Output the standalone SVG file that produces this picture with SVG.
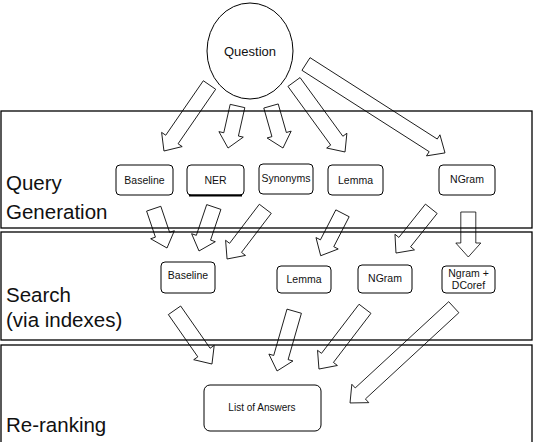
<svg xmlns="http://www.w3.org/2000/svg" width="534" height="442" viewBox="0 0 534 442">
<style>
.band{fill:none;stroke:#000;stroke-width:1.3}
.box{fill:#fff;stroke:#000;stroke-width:1}
.arr{fill:none;stroke:#000;stroke-width:0.8}
.lbl{font-family:"Liberation Sans",Arial,sans-serif;font-size:20.5px;fill:#111}
.t{font-family:"Liberation Sans",Arial,sans-serif;font-size:10.5px;fill:#111;text-anchor:middle}
</style>
<rect width="534" height="442" fill="#fff"/>
<g id="bands">
<rect class="band" x="1" y="111" width="531" height="117"/>
<rect class="band" x="1" y="232" width="531" height="108"/>
<rect class="band" x="1" y="345" width="531" height="110"/>
<text class="lbl" x="6" y="190">Query</text>
<text class="lbl" x="6" y="219">Generation</text>
<text class="lbl" x="6" y="302">Search</text>
<text class="lbl" x="6" y="327">(via indexes)</text>
<text class="lbl" x="6" y="432">Re-ranking</text>
</g>
<g id="question">
<ellipse cx="250" cy="51" rx="43" ry="48" fill="#fff" stroke="#000" stroke-width="1"/>
<text class="t" x="250" y="56" style="font-size:13px">Question</text>
</g>
<g id="connectors">
<polygon class="arr" transform="translate(209.5,85) rotate(124.6)" points="0,-7.5 66.2,-7.5 66.2,-12.5 80.2,0 66.2,12.5 66.2,7.5 0,7.5"/>
<polygon class="arr" transform="translate(237.5,106) rotate(102.7)" points="0,-7.5 29.1,-7.5 29.1,-12.5 43.1,0 29.1,12.5 29.1,7.5 0,7.5"/>
<polygon class="arr" transform="translate(271,106) rotate(74.1)" points="0,-7.5 29.7,-7.5 29.7,-12.5 43.7,0 29.7,12.5 29.7,7.5 0,7.5"/>
<polygon class="arr" transform="translate(294,82) rotate(53.9)" points="0,-7.5 72.6,-7.5 72.6,-12.5 86.6,0 72.6,12.5 72.6,7.5 0,7.5"/>
<polygon class="arr" transform="translate(306,64) rotate(32.6)" points="0,-7.5 151,-7.5 151,-12.5 165,0 151,12.5 151,7.5 0,7.5"/>
<polygon class="arr" transform="translate(153.7,208.7) rotate(71.3)" points="0,-7.5 27.5,-7.5 27.5,-12.5 41.5,0 27.5,12.5 27.5,7.5 0,7.5"/>
<polygon class="arr" transform="translate(213.8,207) rotate(108.6)" points="0,-7.5 32.4,-7.5 32.4,-12.5 46.4,0 32.4,12.5 32.4,7.5 0,7.5"/>
<polygon class="arr" transform="translate(265.3,208.8) rotate(127.3)" points="0,-7.5 49.1,-7.5 49.1,-12.5 63.1,0 49.1,12.5 49.1,7.5 0,7.5"/>
<polygon class="arr" transform="translate(342.5,213.3) rotate(117.2)" points="0,-7.5 33.7,-7.5 33.7,-12.5 47.7,0 33.7,12.5 33.7,7.5 0,7.5"/>
<polygon class="arr" transform="translate(431.3,208.8) rotate(128.6)" points="0,-7.5 42.6,-7.5 42.6,-12.5 56.6,0 42.6,12.5 42.6,7.5 0,7.5"/>
<polygon class="arr" transform="translate(468.3,212) rotate(90)" points="0,-7.5 31,-7.5 31,-12.5 45,0 31,12.5 31,7.5 0,7.5"/>
<polygon class="arr" transform="translate(174.5,310.3) rotate(55.1)" points="0,-7.5 51.5,-7.5 51.5,-12.5 65.5,0 51.5,12.5 51.5,7.5 0,7.5"/>
<polygon class="arr" transform="translate(294.2,311.2) rotate(106)" points="0,-7.5 48.2,-7.5 48.2,-12.5 62.2,0 48.2,12.5 48.2,7.5 0,7.5"/>
<polygon class="arr" transform="translate(365,308.8) rotate(127.4)" points="0,-7.5 61.8,-7.5 61.8,-12.5 75.8,0 61.8,12.5 61.8,7.5 0,7.5"/>
<polygon class="arr" transform="translate(453.8,307.2) rotate(137.3)" points="0,-7.5 127.2,-7.5 127.2,-12.5 141.2,0 127.2,12.5 127.2,7.5 0,7.5"/>
</g>
<g id="q-baseline"><rect class="box" x="116" y="165" width="57" height="30" rx="4"/><text class="t" x="144.5" y="184">Baseline</text></g>
<g id="q-ner"><rect class="box" x="187" y="165" width="57" height="30" rx="4"/><line x1="189" y1="195.5" x2="242" y2="195.5" stroke="#000" stroke-width="1.8"/><text class="t" x="215.5" y="184">NER</text></g>
<g id="q-synonyms"><rect class="box" x="259" y="164" width="54" height="30" rx="4"/><text class="t" x="286" y="182">Synonyms</text></g>
<g id="q-lemma"><rect class="box" x="328" y="165" width="55" height="30" rx="4"/><text class="t" x="355.5" y="184">Lemma</text></g>
<g id="q-ngram"><rect class="box" x="439" y="165" width="56" height="30" rx="4"/><text class="t" x="467" y="183">NGram</text></g>
<g id="s-baseline"><rect class="box" x="161" y="262" width="54" height="31" rx="4"/><text class="t" x="188" y="279">Baseline</text></g>
<g id="s-lemma"><rect class="box" x="277" y="266" width="54" height="27" rx="4"/><text class="t" x="304" y="283">Lemma</text></g>
<g id="s-ngram"><rect class="box" x="358" y="265" width="54" height="28" rx="4"/><text class="t" x="385" y="282">NGram</text></g>
<g id="s-dcoref"><rect class="box" x="442" y="266" width="53" height="27" rx="4"/><text class="t" x="468.5" y="277">Ngram +</text><text class="t" x="468.5" y="289">DCoref</text></g>
<g id="answers"><rect class="box" x="204" y="385" width="117" height="46" rx="6"/><text class="t" x="262" y="411" style="font-size:10px">List of Answers</text></g>
</svg>
